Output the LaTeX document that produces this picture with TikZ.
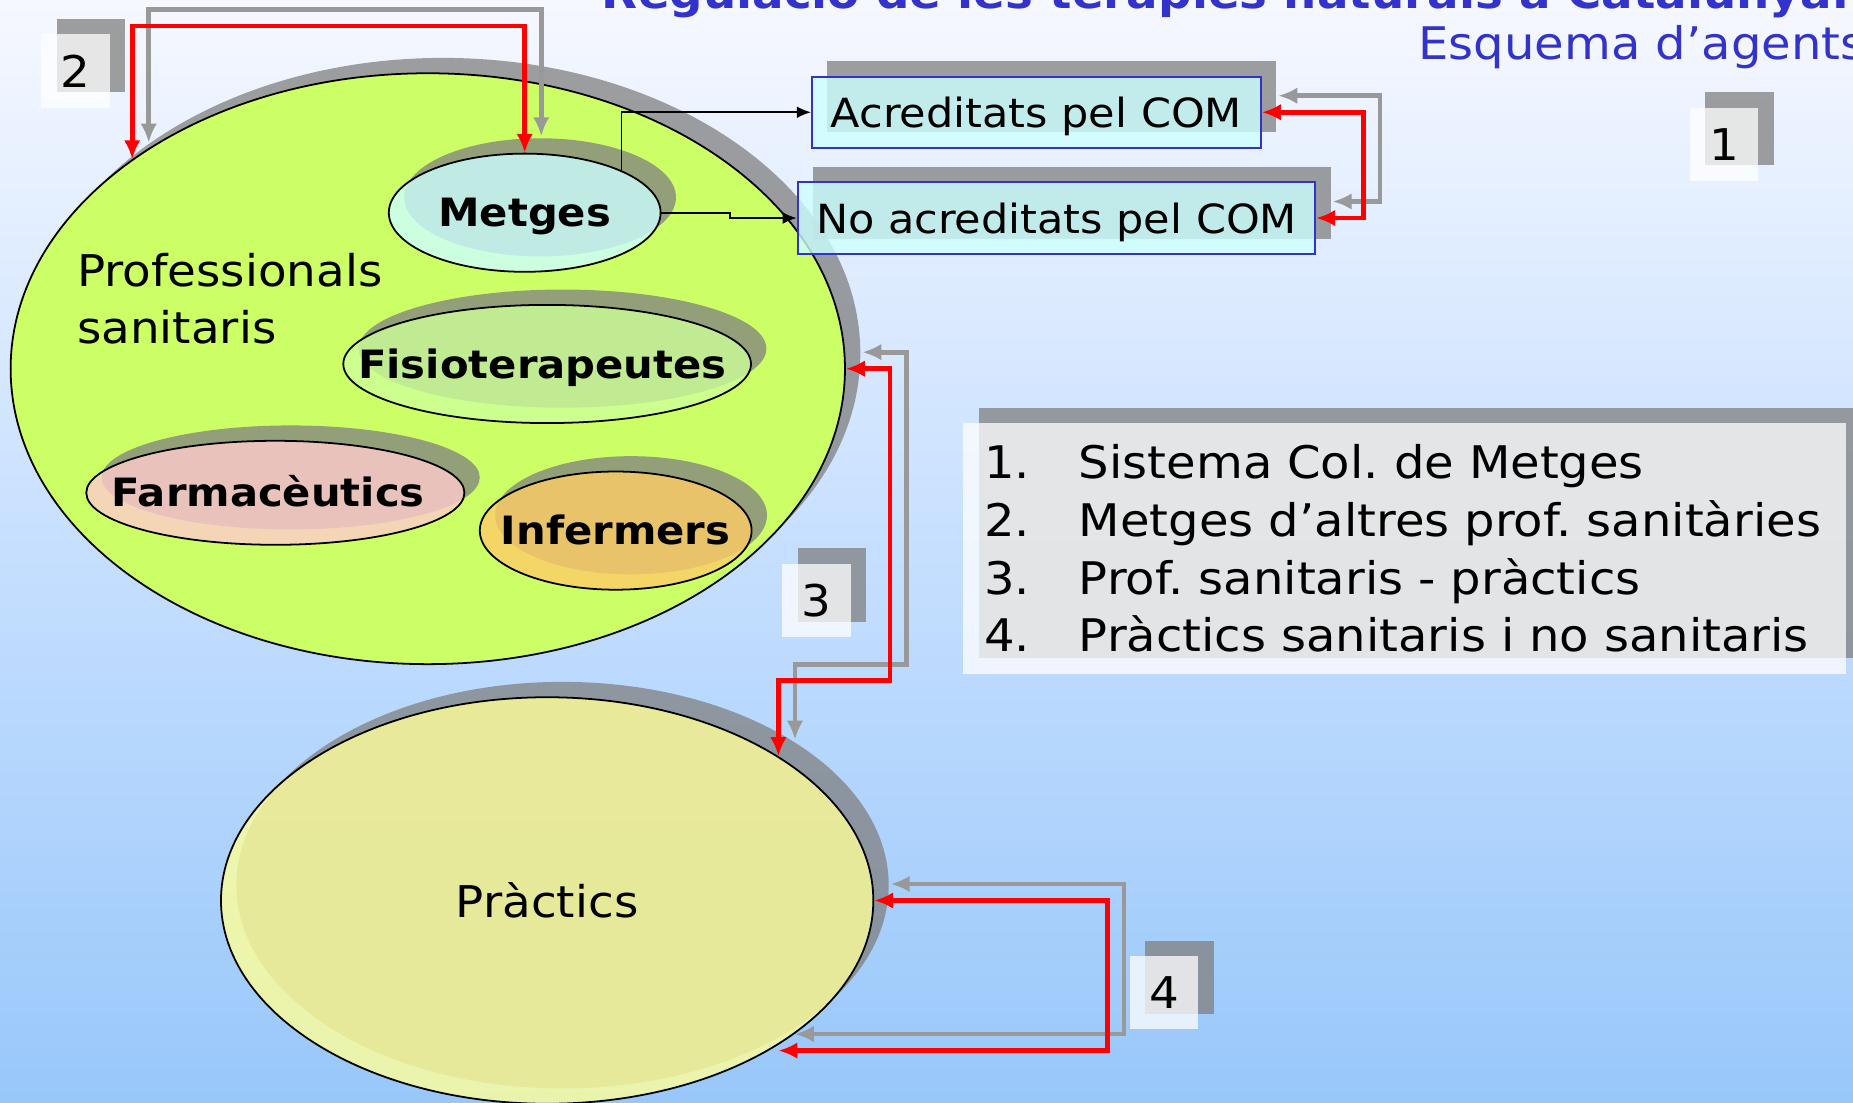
\documentclass[tikz,border=0pt]{standalone}
\usepackage{fontspec}
\setmainfont[FakeStretch=1.07]{DejaVu Sans}
\usepackage{tikz}
\usetikzlibrary{shapes,arrows.meta,positioning,shadows,calc}

\definecolor{titolblau}{HTML}{3333CC}
\definecolor{fonsdalt}{HTML}{F6F8FF}
\definecolor{fonsmig}{HTML}{C6DFFF}
\definecolor{fonsbaix}{HTML}{98C7FA}
\definecolor{verdprof}{HTML}{CCFF66}
\definecolor{cianclar}{HTML}{CCFFFF}
\definecolor{verdclar}{HTML}{CCFF99}
\definecolor{rosaclar}{HTML}{FFCCCC}
\definecolor{taronja}{HTML}{FFCC66}
\definecolor{grocclar}{HTML}{FFFF99}
\definecolor{gris}{HTML}{999999}

\tikzset{
  ombra/.style={drop shadow={shadow xshift=13pt,shadow yshift=13pt,fill=black!50,opacity=0.75}},
  oval/.style={ellipse,draw=black,line width=1.5pt,inner sep=0pt,ombra,fill opacity=0.8,text opacity=1},
  negreta/.style={font=\bfseries\fontsize{33}{40}\selectfont,text opacity=1,inner sep=0pt,
    text height=24pt,text depth=0pt},
  caixa/.style={rectangle,draw=titolblau,line width=1.5pt,fill=cianclar,fill opacity=0.8,text opacity=1,
    inner sep=0pt,text height=26pt,text depth=0pt,ombra,font=\fontsize{34}{40}\selectfont},
  numero/.style={rectangle,fill=white,fill opacity=0.75,text opacity=1,minimum width=58pt,
    minimum height=62pt,inner sep=0pt,ombra,font=\fontsize{37}{44}\selectfont},
  fletxa/.style={draw=red,line width=4pt,{Latex[length=16pt,width=14pt]}-{Latex[length=16pt,width=14pt]}},
  fletxaombra/.style={fletxa,draw=gris,transform canvas={shift={(14pt,14pt)}}},
  enllac/.style={line width=1.5pt,-{Latex[length=12pt,width=10pt]}}
}

\begin{document}
\begin{tikzpicture}[x=1pt,y=-1pt]
\shade[top color=fonsdalt,bottom color=fonsbaix,middle color=fonsmig] (0,0) rectangle (1568,933);
\useasboundingbox (0,0) rectangle (1568,933);

% titols
\node[anchor=base east,inner sep=0pt,text=titolblau,font=\bfseries\fontsize{37}{44}\selectfont] (titol) at (1566,7) {Regulació de les teràpies naturals a Catalunya:};
\node[anchor=base west,inner sep=0pt,text=titolblau,font=\fontsize{38}{46}\selectfont] (subtitol) at (1200,50) {Esquema d’agents};

% agents
\node[oval,fill=verdprof,fill opacity=1,minimum width=706pt,minimum height=500pt] (prof) at (362,312) {};
\node[anchor=north west,align=left,inner sep=0pt,font=\fontsize{37}{48}\selectfont] (proftext) at (65,214) {Professionals\\sanitaris};
\node[oval,fill=cianclar,minimum width=230pt,minimum height=100pt,label={[negreta]center:Metges}] (metges) at (444,180) {};
\node[oval,fill=verdclar,minimum width=345pt,minimum height=100pt,label={[negreta,xshift=-4pt]center:Fisioterapeutes}] (fisio) at (463,308) {};
\node[oval,fill=rosaclar,minimum width=320pt,minimum height=88pt,label={[negreta,xshift=-6pt]center:Farmacèutics}] (farma) at (233,417) {};
\node[oval,fill=taronja,minimum width=230pt,minimum height=100pt,label={[negreta]center:Infermers}] (inferm) at (521,449) {};
\node[oval,fill=grocclar,minimum width=552pt,minimum height=344pt,font=\fontsize{37}{44}\selectfont] (practics) at (463,762) {Pràctics};

\node[caixa,minimum width=380pt,minimum height=60pt] (acred) at (877,95) {Acreditats pel COM};
\node[caixa,minimum width=438pt,minimum height=61pt] (noacred) at (894,184.5) {No acreditats pel COM};

% llegenda
\node[rectangle,fill=white,fill opacity=0.75,text opacity=1,ombra,text width=711pt,minimum height=212pt,
  inner xsep=18pt,inner ysep=0pt,align=left,font=\fontsize{38}{49}\selectfont\frenchspacing] (llista) at (1188.5,464)
  {\makebox[80pt][l]{1.}Sistema Col. de Metges\\
   \makebox[80pt][l]{2.}Metges d’altres prof. sanitàries\\
   \makebox[80pt][l]{3.}Prof. sanitaris - pràctics\\
   \makebox[80pt][l]{4.}Pràctics sanitaris i no sanitaris};

\node[numero] (n1) at (1459,122) {1};
\node[numero] (n2) at (64,60) {2};
\node[numero] (n3) at (691,508) {3};
\node[numero] (n4) at (985,840) {4};

% connexions
\draw[enllac] (metges.north east) |- (acred.west);
\draw[enllac] (metges.east) -- ++(58,0) |- (noacred.west);

\draw[fletxaombra] (acred.east) -- ++(86,0) |- (noacred.east);
\draw[fletxaombra] (prof.north west) -- (prof.north west |- 0,22) -| (metges.north);
\draw[fletxaombra] (prof.east) -| (753,576) -| (practics.north east);
\draw[fletxaombra] (practics.east) -| (937,889) -- (practics.south east |- 0,889);

\draw[fletxa] (acred.east) -- ++(86,0) |- (noacred.east);
\draw[fletxa] (prof.north west) -- (prof.north west |- 0,22) -| (metges.north);
\draw[fletxa] (prof.east) -| (753,576) -| (practics.north east);
\draw[fletxa] (practics.east) -| (937,889) -- (practics.south east |- 0,889);

\end{tikzpicture}
\end{document}
